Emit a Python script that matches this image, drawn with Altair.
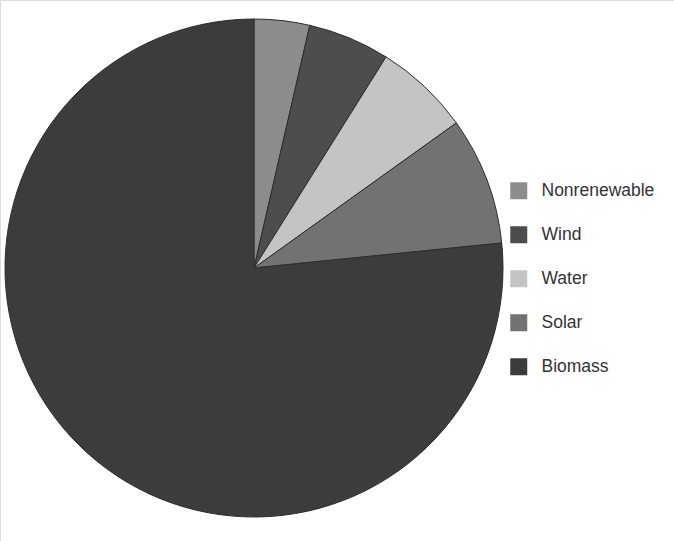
import altair as alt
import pandas as pd

sources = ["Nonrenewable", "Wind", "Water", "Solar", "Biomass"]
shares = [3.6, 5.3, 6.2, 8.3, 76.6]
colors = ["#8c8c8c", "#4d4d4d", "#c4c4c4", "#727272", "#3c3c3c"]
order_idx = [0, 1, 2, 3, 4]

df = pd.DataFrame({"source": sources, "share": shares, "idx": order_idx})

chart = alt.Chart(df).mark_arc(radius=249, stroke="#2e2e2e", strokeWidth=1).encode(
    theta=alt.Theta("share:Q", stack=True),
    order=alt.Order("idx:Q"),
    x=alt.value(254),
    y=alt.value(268),
    color=alt.Color(
        "source:N",
        scale=alt.Scale(domain=sources, range=colors),
        sort=sources,
        legend=alt.Legend(
            title=None,
            orient="none",
            legendX=510,
            legendY=182,
            symbolType="square",
            symbolSize=289,
            symbolStrokeWidth=0,
            labelFontSize=17.5,
            labelFont="Liberation Sans",
            labelColor="#333333",
            labelOffset=14,
            rowPadding=25,
        ),
    ),
).properties(
    width=674,
    height=541,
    autosize=alt.AutoSizeParams(type="none"),
    padding=0,
).configure_view(stroke=None).configure(background="white")

chart.save("out.html", embed_options={"renderer": "svg", "actions": False})
